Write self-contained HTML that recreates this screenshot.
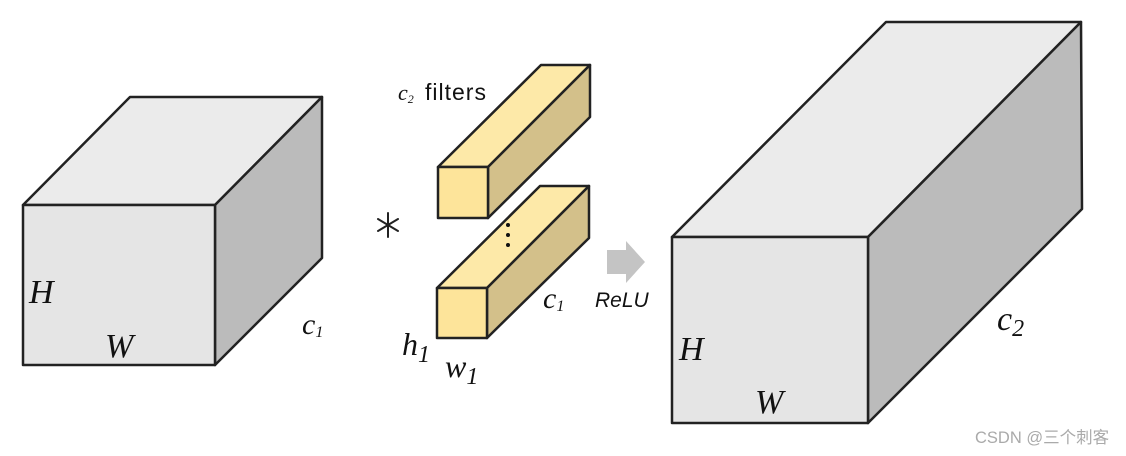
<!DOCTYPE html>
<html><head><meta charset="utf-8"><style>
html,body{margin:0;padding:0;background:#fff;width:1126px;height:456px;overflow:hidden}
svg{display:block}
</style></head><body>
<svg width="1126" height="456" viewBox="0 0 1126 456" xmlns="http://www.w3.org/2000/svg">
<g stroke="#222" stroke-width="2.5" stroke-linejoin="round">
<polygon points="23,205 130,97 322,97 215,205" fill="#ebebeb"/>
<polygon points="215,205 322,97 322,258 215,365" fill="#bbbbbb"/>
<rect x="23" y="205" width="192" height="160" fill="#e5e5e5"/>
<polygon points="438,167 541,65 590,65 488,167" fill="#fde9a8"/>
<polygon points="488,167 590,65 590,117 488,218" fill="#d3c08a"/>
<rect x="438" y="167" width="50" height="51" fill="#fde49a"/>
<polygon points="437,288 540,186 589,186 487,288" fill="#fde9a8"/>
<polygon points="487,288 589,186 589,238 487,338" fill="#d3c08a"/>
<rect x="437" y="288" width="50" height="50" fill="#fde49a"/>
<polygon points="672,237 886,22 1081,22 868,237" fill="#ebebeb"/>
<polygon points="868,237 1081,22 1082,209 868,423" fill="#bbbbbb"/>
<rect x="672" y="237" width="196" height="186" fill="#e5e5e5"/>
</g>
<g stroke="#222" stroke-width="2" stroke-linecap="round">
<line x1="388" y1="213" x2="388" y2="237"/>
<line x1="378" y1="219" x2="398" y2="231"/>
<line x1="378" y1="231" x2="398" y2="219"/>
</g>
<circle cx="508" cy="225" r="2" fill="#111"/>
<circle cx="508" cy="235" r="2" fill="#111"/>
<circle cx="508" cy="245" r="2" fill="#111"/>
<polygon points="607,250 626,250 626,241 645,262 626,283 626,274 607,274" fill="#c4c4c4"/>
<g font-family="Liberation Serif, serif" font-style="italic" fill="#111">
<text x="29" y="303" font-size="34">H</text>
<text x="105" y="357" font-size="34">W</text>
<text x="302" y="334" font-size="30">c<tspan font-size="16" dy="3">1</tspan></text>
<text x="543" y="308" font-size="30">c<tspan font-size="16" dy="3">1</tspan></text>
<text x="402" y="355" font-size="32">h<tspan font-size="24" dy="7">1</tspan></text>
<text x="445" y="377" font-size="32">w<tspan font-size="24" dy="7">1</tspan></text>
<text x="679" y="360" font-size="34">H</text>
<text x="755" y="413" font-size="34">W</text>
<text x="997" y="330" font-size="34">c<tspan font-size="24" dy="6">2</tspan></text>
<text x="398" y="100" font-size="22">c<tspan font-size="12" dy="3">2</tspan></text>
</g>
<text x="425" y="100" font-family="Liberation Sans, sans-serif" font-size="23" letter-spacing="1" fill="#111">filters</text>
<text x="595" y="307" font-family="Liberation Sans, sans-serif" font-style="italic" font-size="21" fill="#111">ReLU</text>
<text x="975" y="443" font-family="Liberation Sans, 'Noto Sans CJK SC', sans-serif" font-size="16.5" fill="#aaa">CSDN @三个刺客</text>
</svg>
</body></html>
